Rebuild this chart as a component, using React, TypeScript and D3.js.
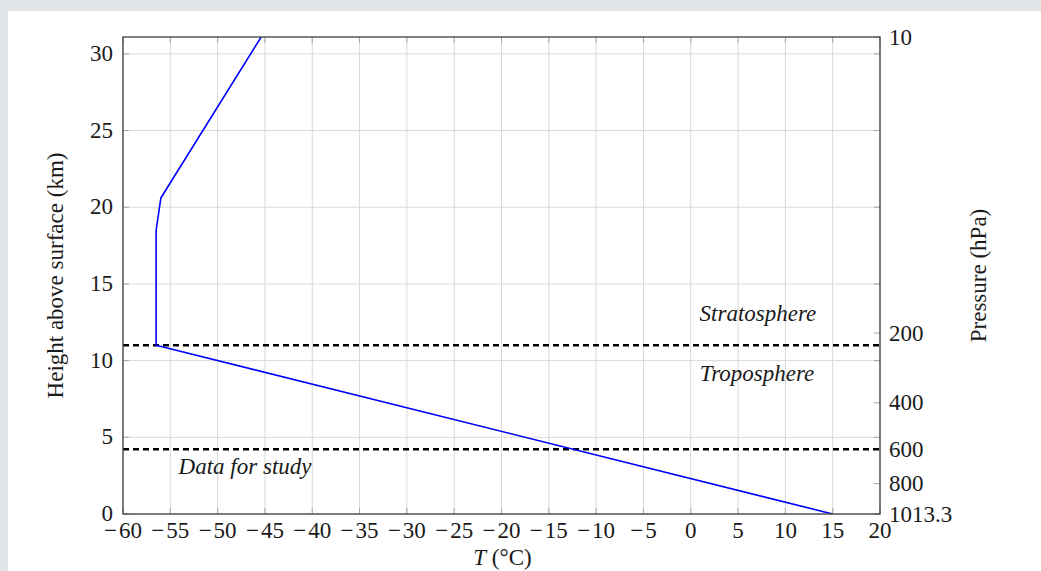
import { useEffect, useRef } from 'react';
import * as d3 from 'd3';

// Temperature profile of the standard atmosphere (T in °C, height in km)
const profileTemp = [15, -56.5, -56.5, -56, -45.4];
const profileHeight = [0, 11, 18.5, 20.6, 31.1];

const xTicks = [-60, -55, -50, -45, -40, -35, -30, -25, -20, -15, -10, -5, 0, 5, 10, 15, 20];
const yTicks = [0, 5, 10, 15, 20, 25, 30];

// Right axis: pressure labels placed at their heights
const pressureLabels = ['10', '200', '400', '600', '800', '1013.3'];
const pressureHeights = [31.1, 11.8, 7.25, 4.22, 1.98, 0];

// Dashed boundaries: tropopause and top of study data
const boundaryHeights = [11, 4.22];

const annotations = ['Stratosphere', 'Troposphere', 'Data for study'];
const annotationPos = [
  [7.1, 12.6],
  [7.0, 8.68],
  [-47.1, 2.6],
];

export default function App() {
  const svgRef = useRef<SVGSVGElement>(null);

  useEffect(() => {
    if (!svgRef.current) return;
    const width = 1041;
    const height = 571;
    const margin = { top: 37, right: 161, bottom: 57, left: 123 };
    const innerWidth = width - margin.left - margin.right;
    const innerHeight = height - margin.top - margin.bottom;
    const font = '"Liberation Serif", "DejaVu Serif", serif';
    const fontSize = '23px';

    d3.select(svgRef.current).selectAll('*').remove();

    const svg = d3.select(svgRef.current)
      .attr('width', width)
      .attr('height', height);

    // page background
    svg.append('rect').attr('width', width).attr('height', height).attr('fill', '#e1e5e9');
    svg.append('rect').attr('x', 8).attr('y', 11).attr('width', width - 8).attr('height', height - 11).attr('fill', 'white');

    const g = svg.append('g')
      .attr('transform', `translate(${margin.left},${margin.top})`);

    const xScale = d3.scaleLinear().domain([-60, 20]).range([0, innerWidth]);
    const yScale = d3.scaleLinear().domain([0, 31.1]).range([innerHeight, 0]);

    // Grid
    g.append('g')
      .selectAll('line')
      .data(xTicks)
      .join('line')
      .attr('x1', d => xScale(d))
      .attr('x2', d => xScale(d))
      .attr('y1', 0)
      .attr('y2', innerHeight)
      .attr('stroke', '#d9d9d9')
      .attr('stroke-width', 1);

    g.append('g')
      .selectAll('line')
      .data(yTicks)
      .join('line')
      .attr('x1', 0)
      .attr('x2', innerWidth)
      .attr('y1', d => yScale(d))
      .attr('y2', d => yScale(d))
      .attr('stroke', '#d9d9d9')
      .attr('stroke-width', 1);

    // Inward ticks on all sides
    const tickLen = 6;
    const tickColor = '#a6a6a6';
    const ticks = g.append('g').attr('stroke', tickColor).attr('stroke-width', 1);
    xTicks.forEach(t => {
      ticks.append('line').attr('x1', xScale(t)).attr('x2', xScale(t)).attr('y1', innerHeight).attr('y2', innerHeight - tickLen);
      ticks.append('line').attr('x1', xScale(t)).attr('x2', xScale(t)).attr('y1', 0).attr('y2', tickLen);
    });
    yTicks.forEach(t => {
      ticks.append('line').attr('x1', 0).attr('x2', tickLen).attr('y1', yScale(t)).attr('y2', yScale(t));
      ticks.append('line').attr('x1', innerWidth).attr('x2', innerWidth - tickLen).attr('y1', yScale(t)).attr('y2', yScale(t));
    });
    pressureHeights.forEach(h => {
      ticks.append('line').attr('x1', innerWidth).attr('x2', innerWidth - tickLen).attr('y1', yScale(h)).attr('y2', yScale(h));
    });

    // Dashed boundaries
    g.append('g')
      .selectAll('line')
      .data(boundaryHeights)
      .join('line')
      .attr('x1', 0)
      .attr('x2', innerWidth)
      .attr('y1', d => yScale(d))
      .attr('y2', d => yScale(d))
      .attr('stroke', 'black')
      .attr('stroke-width', 2.6)
      .attr('stroke-dasharray', '6,4');

    // Profile line
    const pts = profileTemp.map((t, i) => [t, profileHeight[i]] as [number, number]);
    const line = d3.line<[number, number]>()
      .x(d => xScale(d[0]))
      .y(d => yScale(d[1]));

    g.append('clipPath').attr('id', 'plot-clip')
      .append('rect').attr('width', innerWidth).attr('height', innerHeight);

    g.append('path')
      .datum(pts)
      .attr('clip-path', 'url(#plot-clip)')
      .attr('fill', 'none')
      .attr('stroke', '#0000ff')
      .attr('stroke-width', 1.6)
      .attr('stroke-linejoin', 'round')
      .attr('d', line);

    // Axis box
    g.append('rect')
      .attr('width', innerWidth)
      .attr('height', innerHeight)
      .attr('fill', 'none')
      .attr('stroke', '#404040')
      .attr('stroke-width', 1.3);

    // TeX-like minus: a bit wider than the font's own
    const fmt = (v: number) => (v < 0 ? `\u2212\u200a${Math.abs(v)}` : `${v}`);

    // X tick labels
    g.append('g')
      .selectAll('text')
      .data(xTicks)
      .join('text')
      .attr('x', d => xScale(d))
      .attr('y', innerHeight + 24)
      .attr('text-anchor', 'middle')
      .style('font-family', font)
      .style('font-size', fontSize)
      .style('fill', '#1a1a1a')
      .text(d => fmt(d));

    // Y tick labels
    g.append('g')
      .selectAll('text')
      .data(yTicks)
      .join('text')
      .attr('x', -10)
      .attr('y', d => yScale(d) + 7)
      .attr('text-anchor', 'end')
      .style('font-family', font)
      .style('font-size', fontSize)
      .style('fill', '#1a1a1a')
      .text(d => fmt(d));

    // Pressure labels
    g.append('g')
      .selectAll('text')
      .data(pressureLabels)
      .join('text')
      .attr('x', innerWidth + 9)
      .attr('y', (d, i) => yScale(pressureHeights[i]) + 7.5)
      .attr('text-anchor', 'start')
      .style('font-family', font)
      .style('font-size', fontSize)
      .style('fill', '#1a1a1a')
      .text(d => d);

    // Annotations
    g.append('g')
      .selectAll('text')
      .data(annotations)
      .join('text')
      .attr('x', (d, i) => xScale(annotationPos[i][0]))
      .attr('y', (d, i) => yScale(annotationPos[i][1]))
      .attr('text-anchor', 'middle')
      .style('font-family', font)
      .style('font-style', 'italic')
      .style('font-size', fontSize)
      .style('fill', '#1a1a1a')
      .text(d => d);

    // Axis labels
    const xLabel = g.append('text')
      .attr('x', innerWidth / 2 + 1)
      .attr('y', innerHeight + 51)
      .attr('text-anchor', 'middle')
      .style('font-family', font)
      .style('font-size', fontSize)
      .style('fill', '#1a1a1a');
    xLabel.append('tspan').style('font-style', 'italic').text('T');
    xLabel.append('tspan').text(' (\u00b0C)');

    g.append('text')
      .attr('transform', `translate(${-60},${innerHeight / 2}) rotate(-90)`)
      .attr('text-anchor', 'middle')
      .style('font-family', font)
      .style('font-size', fontSize)
      .style('fill', '#1a1a1a')
      .text('Height above surface (km)');

    g.append('text')
      .attr('transform', `translate(${innerWidth + 106},${innerHeight / 2}) rotate(-90)`)
      .attr('text-anchor', 'middle')
      .style('font-family', font)
      .style('font-size', fontSize)
      .style('fill', '#1a1a1a')
      .text('Pressure (hPa)');
  }, []);

  return (
    <div style={{ position: 'absolute', left: 0, top: 0 }}>
      <svg ref={svgRef} style={{ display: 'block' }}></svg>
    </div>
  );
}
